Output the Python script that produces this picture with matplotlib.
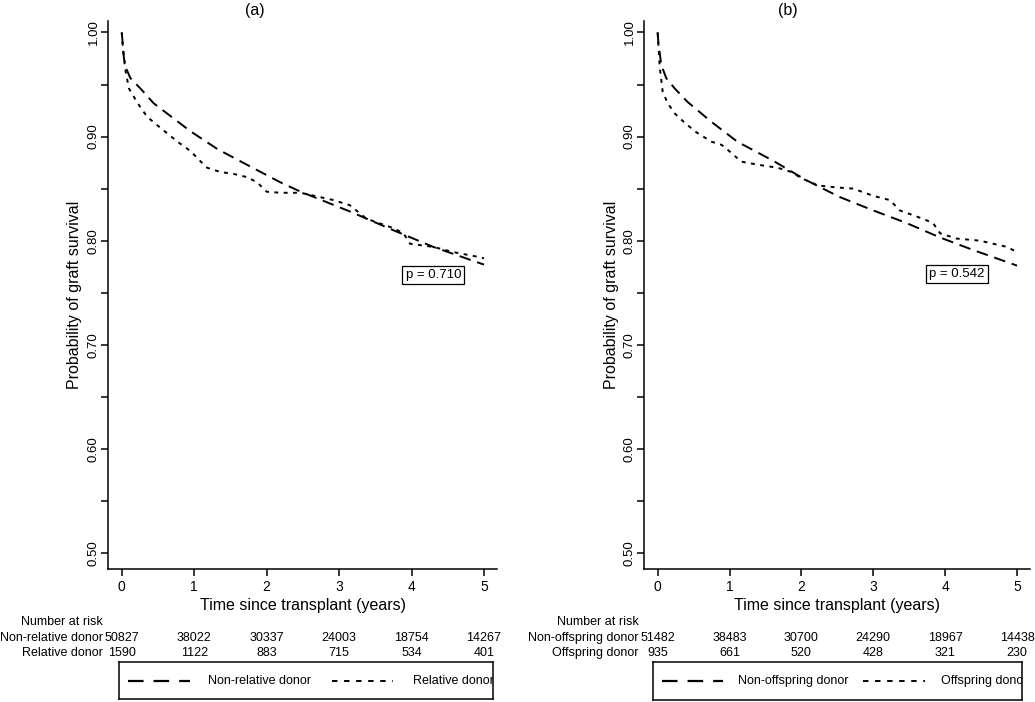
import numpy as np
import matplotlib
matplotlib.use("Agg")
import matplotlib.pyplot as plt
import matplotlib.transforms as mtransforms

plt.rcParams['font.family'] = ['Liberation Sans', 'DejaVu Sans']

# -----------------------------
# DATA
# -----------------------------

# panel (a)
a_t_nonrel = [0, 0.01, 0.03, 0.07, 0.12, 0.26, 0.44, 0.95, 1.32, 1.78, 2.19, 2.47, 3.15, 3.75, 4.30, 5.0]
a_s_nonrel = [1.00, 0.992, 0.975, 0.964, 0.956, 0.946, 0.932, 0.905, 0.888, 0.871, 0.856, 0.847, 0.828, 0.810, 0.794, 0.777]

a_t_rel = [0, 0.01, 0.03, 0.055, 0.10, 0.22, 0.35, 0.54, 0.77, 0.95, 1.09, 1.18, 1.36, 1.55, 1.73, 1.87, 2.0,
           2.19, 2.47, 2.92, 3.15, 3.38, 3.75, 3.89, 3.98, 4.30, 4.58, 4.95, 5.0]
a_s_rel = [1.00, 0.990, 0.975, 0.962, 0.946, 0.932, 0.919, 0.908, 0.895, 0.886, 0.876, 0.870, 0.866, 0.864, 0.861, 0.856, 0.847,
           0.846, 0.846, 0.839, 0.834, 0.821, 0.812, 0.807, 0.797, 0.794, 0.789, 0.784, 0.783]

# panel (b)
b_t_nonoff = [0, 0.01, 0.05, 0.12, 0.24, 0.42, 0.75, 1.11, 1.60, 2.07, 2.53, 3.0, 3.46, 3.93, 4.39, 5.0]
b_s_nonoff = [1.00, 0.990, 0.969, 0.956, 0.946, 0.933, 0.914, 0.895, 0.877, 0.858, 0.842, 0.829, 0.817, 0.803, 0.791, 0.776]

b_t_off = [0, 0.01, 0.03, 0.07, 0.14, 0.24, 0.38, 0.54, 0.75, 0.89, 1.03, 1.16, 1.39, 1.67, 1.86, 2.0, 2.23,
           2.51, 2.72, 3.0, 3.23, 3.37, 3.69, 3.83, 3.93, 4.16, 4.48, 4.86, 5.0]
b_s_off = [1.00, 0.988, 0.966, 0.943, 0.932, 0.922, 0.913, 0.904, 0.895, 0.892, 0.884, 0.876, 0.873, 0.870, 0.866, 0.860, 0.853,
           0.851, 0.850, 0.843, 0.839, 0.829, 0.821, 0.817, 0.807, 0.802, 0.800, 0.794, 0.789]

risk_times = [0, 1, 2, 3, 4, 5]
a_risk_nonrel = [50827, 38022, 30337, 24003, 18754, 14267]
a_risk_rel = [1590, 1122, 883, 715, 534, 401]
b_risk_nonoff = [51482, 38483, 30700, 24290, 18967, 14438]
b_risk_off = [935, 661, 520, 428, 321, 230]

a_groups = ["Non-relative donor", "Relative donor"]
b_groups = ["Non-offspring donor", "Offspring donor"]
a_p = "p = 0.710"
b_p = "p = 0.542"

yticks = [0.50, 0.60, 0.70, 0.80, 0.90, 1.00]
yminor = [0.55, 0.65, 0.75, 0.85, 0.95]

# -----------------------------
# STYLE
# -----------------------------

W, H = 1035, 702
fig = plt.figure(figsize=(W / 100, H / 100), dpi=100)

dash_style = (0, (6, 3.5))
dot_style = (0, (2, 2.8))
lw = 1.4


def px_axes(x0, y0, x1, y1):
    # pixel box (top-left origin) -> figure axes
    return fig.add_axes([x0 / W, 1 - y1 / H, (x1 - x0) / W, (y1 - y0) / H])


def make_panel(box, title, title_x, t1, s1, t2, s2, groups, risk1, risk2, pval, pxy,
               label_x, leg_box, leg_parts):

    ax = px_axes(*box)
    ax.plot(t1, s1, color='black', lw=lw, linestyle=dash_style)
    ax.plot(t2, s2, color='black', lw=lw, linestyle=dot_style)

    ax.set_xlim(-0.19, 5.18)
    ax.set_ylim(0.4846, 1.011)
    ax.spines['top'].set_visible(False)
    ax.spines['right'].set_visible(False)
    ax.spines['left'].set_linewidth(1.1)
    ax.spines['bottom'].set_linewidth(1.1)

    ax.set_xticks(risk_times)
    ax.set_yticks(yticks)
    ax.set_yticks(yminor, minor=True)
    ax.set_yticklabels([f"{v:.2f}" for v in yticks], rotation=90, va='center')
    ax.tick_params(axis='both', length=5, width=1.1, labelsize=9.5, pad=1)
    ax.tick_params(axis='x', labelsize=10, pad=3)
    ax.tick_params(axis='y', which='minor', length=5, width=1.1)

    ax.set_xlabel("Time since transplant (years)", fontsize=11.5, labelpad=3)
    ax.set_ylabel("Probability of graft survival", fontsize=11.5)
    ax.yaxis.set_label_coords(label_x, 0.5)

    ax.text(pxy[0], pxy[1], pval, fontsize=9.5, ha='center', va='center',
            bbox=dict(boxstyle='square,pad=0.25', fc='white', ec='black', lw=0.9))

    fig.text(title_x / W, 1 - 10 / H, title, fontsize=11.5, ha='center', va='center')

    # number at risk table
    tr = mtransforms.blended_transform_factory(ax.transData, fig.transFigure)
    row_x = box[0] - 5
    fig.text(row_x / W, 1 - 622 / H, "Number at risk", fontsize=9, ha='right', va='center')
    fig.text(row_x / W, 1 - 638 / H, groups[0], fontsize=9, ha='right', va='center')
    fig.text(row_x / W, 1 - 653 / H, groups[1], fontsize=9, ha='right', va='center')
    for x, n1, n2 in zip(risk_times, risk1, risk2):
        ax.text(x, 1 - 638 / H, str(n1), transform=tr, fontsize=9, ha='center', va='center', clip_on=False)
        ax.text(x, 1 - 653 / H, str(n2), transform=tr, fontsize=9, ha='center', va='center', clip_on=False)

    # legend box
    lx0, ly0, lx1, ly1 = leg_box
    lax = px_axes(lx0, ly0, lx1, ly1)
    lax.set_xlim(0, lx1 - lx0)
    lax.set_ylim(0, 1)
    lax.set_xticks([])
    lax.set_yticks([])
    for sp in lax.spines.values():
        sp.set_linewidth(1.1)
    d0, d1, tx1, o0, o1, tx2 = leg_parts
    lax.plot([d0, d1], [0.5, 0.5], color='black', lw=1.6, linestyle=(0, (7, 4.5)))
    lax.plot([o0, o1], [0.5, 0.5], color='black', lw=1.4, linestyle=(0, (2.8, 3.4)))
    lax.text(tx1, 0.5, groups[0], fontsize=9, ha='left', va='center', clip_on=True)
    lax.text(tx2, 0.5, groups[1], fontsize=9, ha='left', va='center', clip_on=True)
    return ax


make_panel((108, 21, 497, 569), "(a)", 255,
           a_t_nonrel, a_s_nonrel, a_t_rel, a_s_rel, a_groups,
           a_risk_nonrel, a_risk_rel, a_p, (4.30, 0.767), -0.068,
           (119, 662, 493, 699), (9, 71, 89, 213, 274, 294))

make_panel((644, 21, 1030, 569), "(b)", 788,
           b_t_nonoff, b_s_nonoff, b_t_off, b_s_off, b_groups,
           b_risk_nonoff, b_risk_off, b_p, (4.16, 0.768), -0.066,
           (653, 662, 1022, 700), (9, 70, 85, 210, 272, 288))

fig.savefig("out.png", dpi=100)
